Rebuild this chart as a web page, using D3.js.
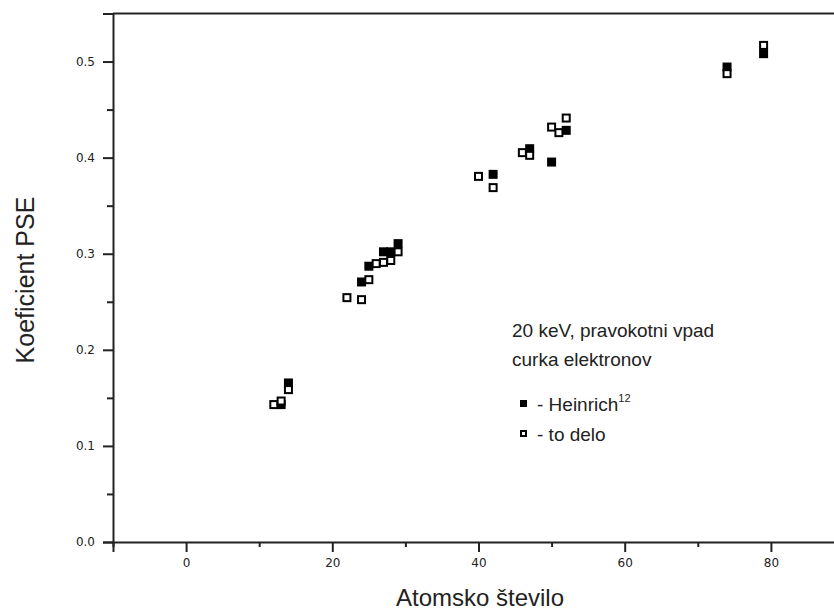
<!DOCTYPE html>
<html>
<head>
<meta charset="utf-8">
<script src="https://cdn.jsdelivr.net/npm/d3@7"></script>
<style>
  body { margin: 0; background: #fff; }
  .tick text { font-family: "DejaVu Sans", sans-serif; font-size: 12px; fill: #222; }
</style>
</head>
<body>
<svg width="834" height="611"></svg>
<script>
// Heinrich (filled squares)
var heinrichZ = [13, 14, 24, 25, 27, 28, 29, 42, 47, 50, 52, 74, 79];
var heinrichPSE = [0.143, 0.1655, 0.2706, 0.287, 0.302, 0.302, 0.3105, 0.3826, 0.4093, 0.3954, 0.4284, 0.4943, 0.5082];

// to delo (open squares)
var deloZ = [12, 13, 14, 22, 24, 25, 26, 27, 28, 29, 40, 42, 46, 47, 50, 51, 52, 74, 79];
var deloPSE = [0.143, 0.1467, 0.1586, 0.2543, 0.2522, 0.273, 0.2897, 0.291, 0.293, 0.302, 0.3805, 0.3688, 0.4052, 0.4024, 0.4318, 0.426, 0.4412, 0.4874, 0.5168];

var xTicks = [0, 20, 40, 60, 80];
var xMinor = [-10, 10, 30, 50, 70, 90];
var yTicks = [0, 0.1, 0.2, 0.3, 0.4, 0.5];
var yMinor = [0.05, 0.15, 0.25, 0.35, 0.45, 0.55];

var svg = d3.select('svg');

var x = d3.scaleLinear().domain([-10, 90]).range([113, 844]);
var y = d3.scaleLinear().domain([0, 0.55]).range([542, 13.5]);

// frame (top and right)
svg.append('path')
    .attr('d', 'M' + x(-10) + ',' + y(0.55) + 'H' + x(90) + 'V' + y(0))
    .attr('fill', 'none')
    .attr('stroke', '#222')
    .attr('stroke-width', 2);

// minor ticks
svg.append('g')
    .attr('transform', 'translate(0,' + y(0) + ')')
    .call(d3.axisBottom(x).tickValues(xMinor).tickSize(5).tickFormat(''))
    .call(function(g) { g.select('.domain').remove(); })
    .selectAll('line').attr('stroke', '#222').attr('stroke-width', 2);

svg.append('g')
    .attr('transform', 'translate(' + x(-10) + ',0)')
    .call(d3.axisLeft(y).tickValues(yMinor).tickSize(6).tickFormat(''))
    .call(function(g) { g.select('.domain').remove(); })
    .selectAll('line').attr('stroke', '#222').attr('stroke-width', 2);

// major axes
var xAxis = svg.append('g')
    .attr('transform', 'translate(0,' + y(0) + ')')
    .call(d3.axisBottom(x).tickValues(xTicks).tickSize(10).tickPadding(6).tickFormat(d3.format('d')));

var yAxis = svg.append('g')
    .attr('transform', 'translate(' + x(-10) + ',0)')
    .call(d3.axisLeft(y).tickValues(yTicks).tickSize(10).tickPadding(8).tickFormat(d3.format('.1f')));

[xAxis, yAxis].forEach(function(g) {
    g.select('.domain').attr('stroke', '#222').attr('stroke-width', 2);
    g.selectAll('.tick line').attr('stroke', '#222').attr('stroke-width', 2);
});

// points: filled first, open on top
var plot = svg.append('g');
var heinrich = heinrichZ.map(function(z, i) { return {z: z, v: heinrichPSE[i]}; });
var delo = deloZ.map(function(z, i) { return {z: z, v: deloPSE[i]}; });

plot.selectAll('rect.filled').data(heinrich).enter().append('rect')
    .attr('class', 'filled')
    .attr('x', function(d) { return x(d.z) - 4.5; })
    .attr('y', function(d) { return y(d.v) - 4.5; })
    .attr('width', 9)
    .attr('height', 9)
    .attr('fill', '#000');

plot.selectAll('rect.open').data(delo).enter().append('rect')
    .attr('class', 'open')
    .attr('x', function(d) { return x(d.z) - 3.5; })
    .attr('y', function(d) { return y(d.v) - 3.5; })
    .attr('width', 7)
    .attr('height', 7)
    .attr('fill', '#fff')
    .attr('stroke', '#000')
    .attr('stroke-width', 2);

// axis titles
svg.append('text')
    .attr('x', 480)
    .attr('y', 606)
    .attr('text-anchor', 'middle')
    .style('font-family', 'Liberation Sans, Arial, sans-serif')
    .style('font-size', '24px')
    .attr('fill', '#222')
    .text('Atomsko število');

svg.append('text')
    .attr('transform', 'translate(34,280) rotate(-90)')
    .attr('text-anchor', 'middle')
    .style('font-family', 'Liberation Sans, Arial, sans-serif')
    .style('font-size', '25px')
    .attr('fill', '#222')
    .text('Koeficient PSE');

// legend
var leg = svg.append('g')
    .style('font-family', 'Liberation Sans, Arial, sans-serif')
    .style('font-size', '19px')
    .attr('fill', '#222');

leg.append('text').attr('x', 512).attr('y', 337).text('20 keV, pravokotni vpad');
leg.append('text').attr('x', 512).attr('y', 366).text('curka elektronov');

leg.append('rect').attr('x', 520).attr('y', 400).attr('width', 7).attr('height', 7).attr('fill', '#000');
var ht = leg.append('text').attr('x', 537).attr('y', 411);
ht.append('tspan').text('- Heinrich');
ht.append('tspan').attr('dy', -9).style('font-size', '11px').text('12');

leg.append('rect').attr('x', 521).attr('y', 431).attr('width', 5).attr('height', 5)
    .attr('fill', '#fff').attr('stroke', '#000').attr('stroke-width', 2);
leg.append('text').attr('x', 537).attr('y', 441).text('- to delo');
</script>
</body>
</html>
